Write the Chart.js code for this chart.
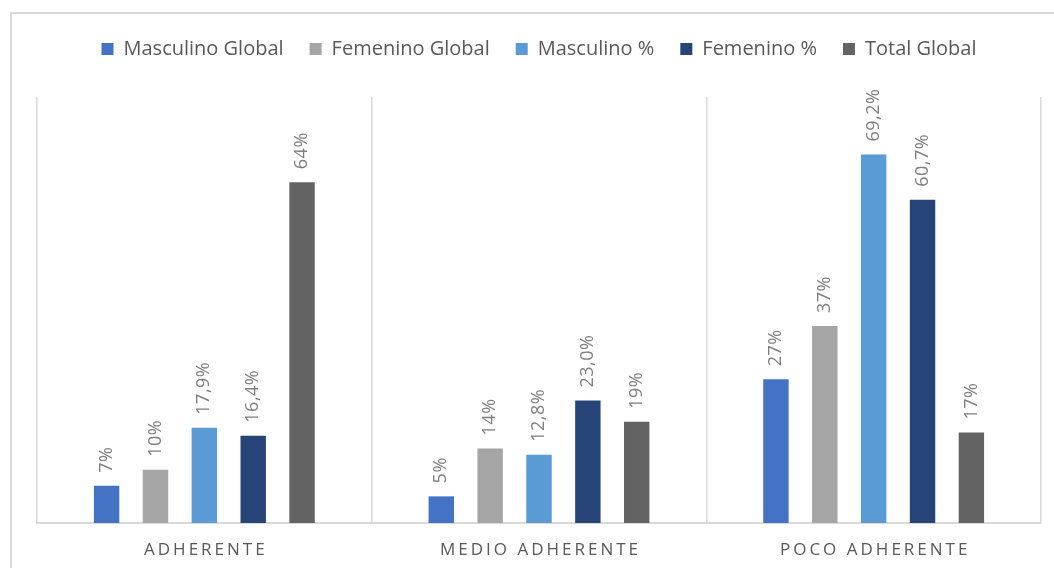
<!DOCTYPE html>
<html>
<head>
<meta charset="utf-8">
<script src="https://cdn.jsdelivr.net/npm/chart.js@4"></script>
<style>
  html, body { margin: 0; padding: 0; background: #fff; overflow: hidden; }
  #wrap { position: relative; width: 1054px; height: 568px; overflow: hidden; }
  #frame { position: absolute; left: 10px; top: 12px; width: 1044px; height: 600px; border: 2px solid #d9d9d9; border-right: none; box-sizing: border-box; }
  #chart { position: absolute; left: 0; top: 0; }
</style>
</head>
<body>
<div id="wrap">
  <div id="frame"></div>
  <canvas id="chart" width="1054" height="568"></canvas>
</div>
<script>
const categories = ['ADHERENTE', 'MEDIO ADHERENTE', 'POCO ADHERENTE'];
const seriesNames = ['Masculino Global', 'Femenino Global', 'Masculino %', 'Femenino %', 'Total Global'];
const masculinoGlobal = [7, 5, 27];
const femeninoGlobal = [10, 14, 37];
const masculinoPct = [17.9, 12.8, 69.2];
const femeninoPct = [16.4, 23.0, 60.7];
const totalGlobal = [64, 19, 17];
const colors = ['#4472c4', '#a5a5a5', '#5b9bd5', '#264478', '#636363'];
const decimals = [0, 0, 1, 1, 0];

const FONT = '"Open Sans", Lato, sans-serif';

function fmt(v, i) {
    return v.toFixed(decimals[i]).replace('.', ',') + '%';
}

// value labels, rotated, above each bar
const barLabels = {
    id: 'barLabels',
    afterDatasetsDraw(chart) {
        const ctx = chart.ctx;
        ctx.save();
        ctx.font = '18px ' + FONT;
        ctx.fillStyle = '#7f7f7f';
        ctx.letterSpacing = '0.5px';
        ctx.textAlign = 'left';
        ctx.textBaseline = 'middle';
        chart.data.datasets.forEach((ds, i) => {
            chart.getDatasetMeta(i).data.forEach((bar, j) => {
                ctx.save();
                ctx.translate(bar.x, bar.y - 13);
                ctx.rotate(-Math.PI / 2);
                ctx.fillText(fmt(ds.data[j], i), 0, 0);
                ctx.restore();
            });
        });
        ctx.restore();
    }
};

// spaced-out category names under the axis
const categoryLabels = {
    id: 'categoryLabels',
    afterDraw(chart) {
        const ctx = chart.ctx;
        const x = chart.scales.x;
        ctx.save();
        ctx.font = '17px ' + FONT;
        ctx.fillStyle = '#595959';
        ctx.letterSpacing = '3px';
        ctx.textAlign = 'center';
        ctx.textBaseline = 'middle';
        categories.forEach((c, i) => {
            ctx.fillText(c, x.getPixelForValue(i) + 1.5, 550);
        });
        ctx.restore();
    }
};

// extra room between legend and plot
const legendSpace = {
    id: 'legendSpace',
    beforeInit(chart) {
        const fit = chart.legend.fit;
        chart.legend.fit = function () {
            fit.bind(chart.legend)();
            this.height = 84;
        };
    }
};

const datasets = [masculinoGlobal, femeninoGlobal, masculinoPct, femeninoPct, totalGlobal].map((d, i) => ({
    label: seriesNames[i],
    data: d,
    backgroundColor: colors[i],
    borderWidth: 0,
    categoryPercentage: 0.73,
    barPercentage: 0.52
}));

new Chart(document.getElementById('chart'), {
    type: 'bar',
    data: { labels: categories, datasets: datasets },
    plugins: [barLabels, categoryLabels, legendSpace],
    options: {
        responsive: false,
        animation: false,
        layout: { padding: { top: 13, left: 37, right: 13, bottom: 0 } },
        plugins: {
            tooltip: { enabled: false },
            legend: {
                position: 'top',
                labels: {
                    boxWidth: 12,
                    boxHeight: 12,
                    padding: 26,
                    color: '#595959',
                    font: { family: FONT, size: 20 }
                }
            }
        },
        scales: {
            x: {
                grid: { display: true, offset: true, color: '#d9d9d9', lineWidth: 1.5, drawTicks: false },
                border: { display: true, color: '#d9d9d9', width: 2 },
                ticks: { display: false },
                afterFit(scale) { scale.height = 45; }
            },
            y: {
                display: false,
                min: 0,
                max: 80
            }
        }
    }
});
</script>
</body>
</html>
